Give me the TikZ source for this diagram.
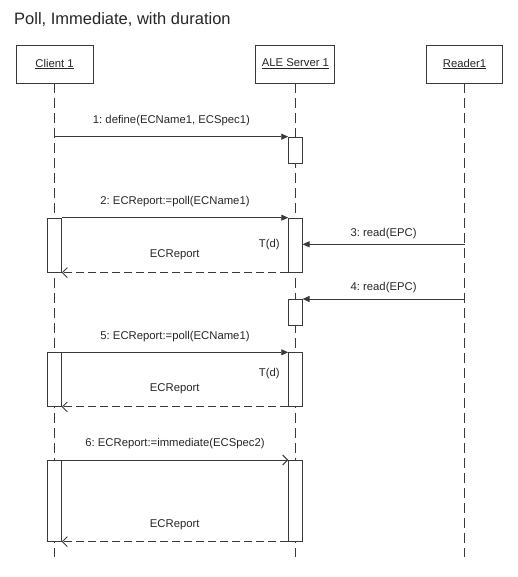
\documentclass[tikz,border=0pt]{standalone}
\usepackage{fontspec}
\setmainfont{Liberation Sans}
\usetikzlibrary{arrows.meta}
\definecolor{ln}{HTML}{3A3A3A}
\definecolor{tx}{HTML}{262626}
\frenchspacing
\begin{document}
\begin{tikzpicture}[x=1pt,y=-1pt,
  every node/.style={text=tx},
  lbl/.style={font=\fontsize{11.3}{13}\selectfont, inner sep=0pt},
  head/.style={draw=ln, line width=0.9pt, fill=white, minimum width=#1, minimum height=38pt, inner sep=0pt, font=\fontsize{11.3}{13}\selectfont},
  life/.style={draw=ln, line width=0.9pt, dash pattern=on 10pt off 5pt},
  act/.style={draw=ln, line width=0.9pt, fill=white, minimum width=13.4pt, minimum height=#1, inner sep=0pt, anchor=north},
  sync/.style={draw=ln, line width=0.9pt, -{Triangle[length=7pt,width=6pt]}},
  asyn/.style={draw=ln, line width=0.9pt, -{Straight Barb[length=5pt,width=10pt]}},
  ret/.style={draw=ln, line width=0.9pt, dash pattern=on 8pt off 4pt, -{Straight Barb[length=5pt,width=10pt]}}
]
\useasboundingbox (0,0) rectangle (518,577);
\node[anchor=base west, inner sep=0pt, font=\fontsize{16.5}{19}\selectfont] (title) at (14,24.3) {Poll, Immediate, with duration};

\node[head=77pt] (cl) at (54.6,64) {\underline{Client 1}};
\node[head=79pt] (sv) at (295.4,64) {\underline{ALE Server 1}};
\node[head=76pt] (rd) at (464.6,64) {\underline{Reader1}};

\coordinate (clend) at (54.6,557);
\coordinate (svend) at (295.4,557);
\coordinate (rdend) at (464.6,557);
\draw[life] (cl.south) -- (clend);
\draw[life] (sv.south) -- (svend);
\draw[life] (rd.south) -- (rdend);

% activations
\node[act=26.6pt] (s1) at (295.4,136.7) {};
\node[act=54pt] (c2) at (54.6,217.7) {};
\node[act=54pt] (s2) at (295.4,217.7) {};
\node[act=26pt] (s4) at (295.4,299) {};
\node[act=53.7pt] (c5) at (54.6,352.3) {};
\node[act=53.7pt] (s5) at (295.4,352.3) {};
\node[act=80.7pt] (c6) at (54.6,460) {};
\node[act=80.7pt] (s6) at (295.4,460) {};

% 1
\draw[sync] (cl |- s1.north west) -- node[lbl, midway, yshift=16pt] (l1) {1: define(ECName1, ECSpec1)} (s1.north west);
% 2
\draw[sync] (c2.north east) -- node[lbl, midway, yshift=16pt] (l2) {2: ECReport:=poll(ECName1)} (s2.north west);
% 3
\coordinate (r3) at (464.6,244.3);
\draw[sync] (r3) -- node[lbl, midway, yshift=10.5pt] (l3) {3: read(EPC)} (r3 -| s2.east);
\node[lbl] (t2) at (269.3,244.3) {T(d)};
\draw[ret] (s2.south west) -- (c2.south east);
\node[lbl] (e2) at (174.7,255) {ECReport};
% 4
\coordinate (r4) at (464.6,299);
\draw[sync] (r4) -- node[lbl, midway, yshift=11.5pt] (l4) {4: read(EPC)} (s4.north east);
% 5
\draw[sync] (c5.north east) -- node[lbl, midway, yshift=16pt] (l5) {5: ECReport:=poll(ECName1)} (s5.north west);
\node[lbl] (t5) at (269.3,374) {T(d)};
\draw[ret] (s5.south west) -- (c5.south east);
\node[lbl] (e5) at (174.7,389) {ECReport};
% 6
\draw[asyn] (c6.north east) -- node[lbl, midway, yshift=16pt] (l6) {6: ECReport:=immediate(ECSpec2)} (s6.north west);
\draw[ret] (s6.south west) -- (c6.south east);
\node[lbl] (e6) at (174.7,524.3) {ECReport};
\end{tikzpicture}
\end{document}
